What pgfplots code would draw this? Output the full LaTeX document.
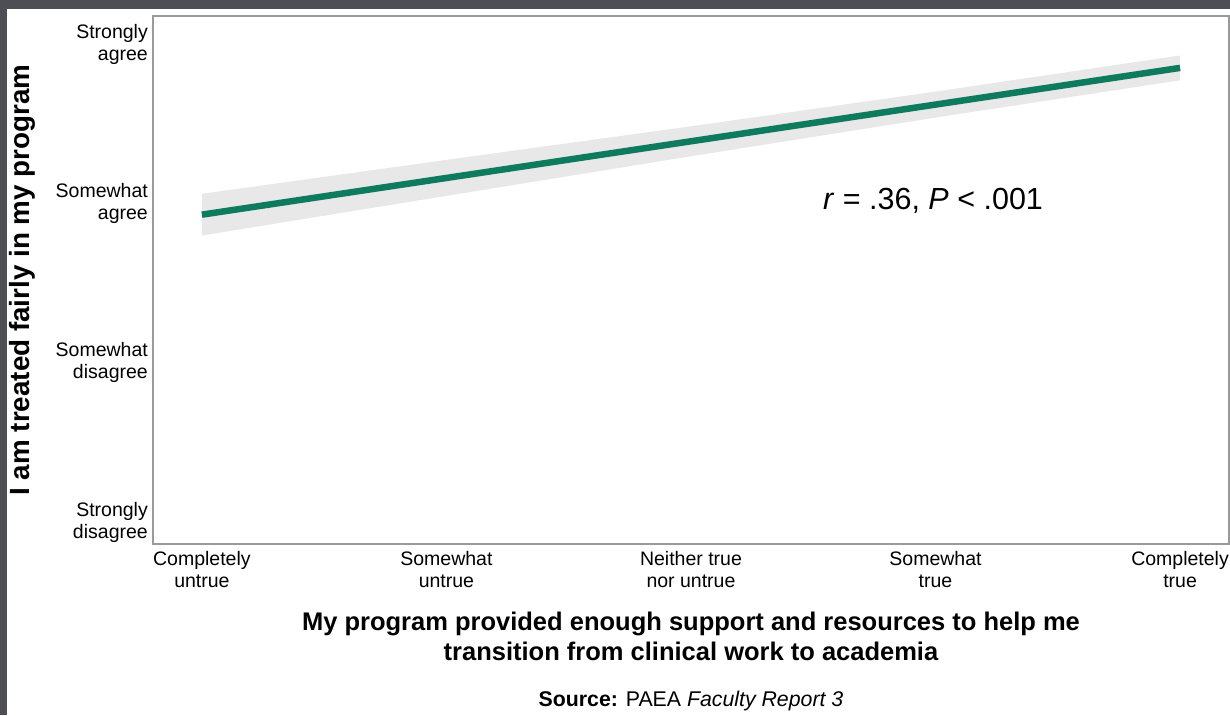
\documentclass[border=0pt]{standalone}
\usepackage{pgfplots}
\pgfplotsset{compat=1.18}
\usepackage{fontspec}
\setmainfont{Liberation Sans}
\definecolor{frame}{HTML}{4E4F54}
\definecolor{band}{HTML}{E8E8E8}
\definecolor{fitgreen}{HTML}{0F7B5E}
\definecolor{axgray}{HTML}{9A9A9A}
\begin{document}
\begin{tikzpicture}[x=1pt,y=1pt]
\path[use as bounding box] (0,0) rectangle (1230,715);
\fill[frame] (0,0) rectangle (1230,715);
\fill[white] (7,0) rectangle (1230,706);
\begin{axis}[
  scale only axis,
  width=1076pt, height=528pt,
  at={(153pt,171pt)}, anchor=south west,
  xmin=0.8, xmax=5.2, ymin=0.862, ymax=4.179,
  axis line style={draw=axgray, line width=1.5pt},
  major tick length=0pt,
  xtick={1,2,3,4,5},
  xticklabels={{Completely\\untrue},{Somewhat\\untrue},{Neither true\\nor untrue},{Somewhat\\true},{Completely\\true}},
  ytick={1,2,3,4},
  yticklabels={{Strongly\\disagree},{Somewhat\\disagree},{Somewhat\\agree},{Strongly\\agree}},
  xticklabel style={align=center, font=\fontsize{19.5}{22}\selectfont, inner sep=0pt, yshift=-7pt},
  yticklabel style={align=right, font=\fontsize{19.5}{22}\selectfont, inner sep=0pt, xshift=-5pt},
  xlabel={My program provided enough support and resources to help me\\transition from clinical work to academia},
  xlabel style={align=center, font=\fontsize{25.5}{30}\selectfont\bfseries, at={(axis description cs:0.5,0)}, anchor=north, yshift=-68pt, inner sep=0pt},
  ylabel={I am treated fairly in my program},
  ylabel style={font=\fontsize{27.8}{30}\selectfont\bfseries, at={(axis description cs:-0.1217,0.5)}, anchor=center, inner sep=0pt},
  clip=false,
]
\addplot[fill=band, draw=none] coordinates {
  (1,3.062) (2,3.275) (3,3.486) (4,3.704) (5,3.931)
  (5,3.775) (4,3.541) (3,3.298) (2,3.049) (1,2.800)
} -- cycle;
\addplot[fitgreen, line width=6.5pt] coordinates {(1,2.931) (5,3.853)};
\node[anchor=base, font=\fontsize{30.5}{32}\selectfont] at (axis cs:3.99,2.965) {\textit{r} = .36, \textit{P} < .001};
\end{axis}
\node[anchor=base, font=\fontsize{21.3}{24}\selectfont] at (691,9) {\textbf{Source:} PAEA \textit{Faculty Report 3}};
\end{tikzpicture}
\end{document}
